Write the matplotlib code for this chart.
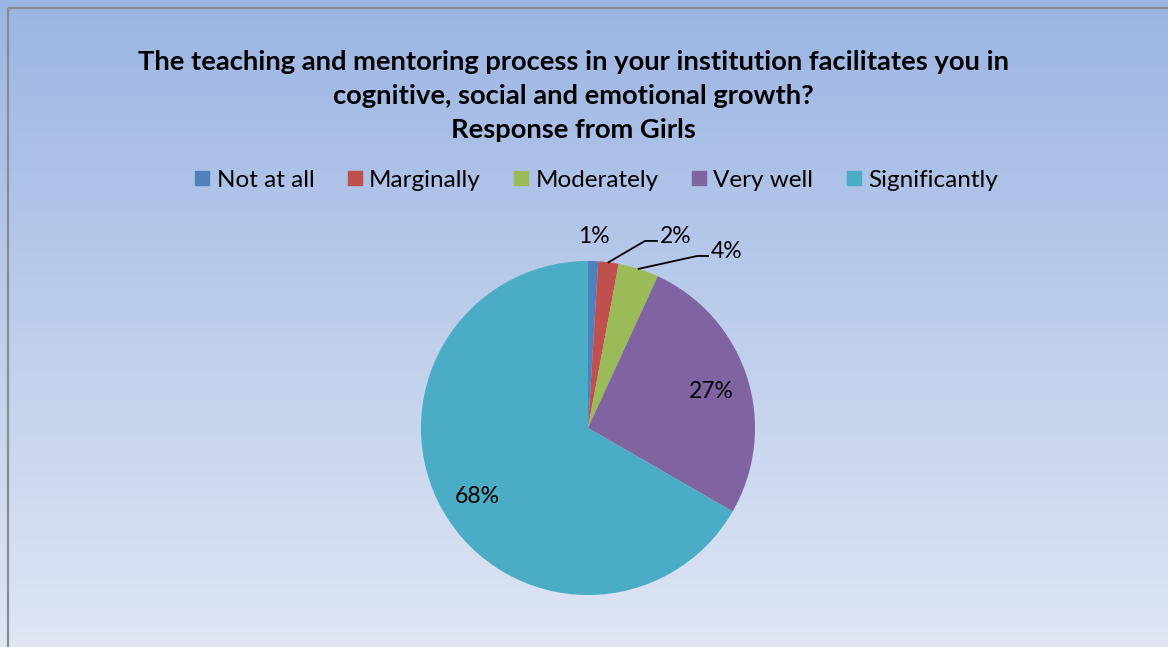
import numpy as np
import matplotlib
matplotlib.use("Agg")
import matplotlib.pyplot as plt
from matplotlib.colors import LinearSegmentedColormap
from matplotlib.lines import Line2D

categories = ["Not at all", "Marginally", "Moderately", "Very well", "Significantly"]
values = [1, 2, 4, 27, 68]
colors = ["#4f81bd", "#c0504d", "#9bbb59", "#8064a2", "#4bacc6"]
title = ("The teaching and mentoring process in your institution facilitates you in\n"
         "cognitive, social and emotional growth?\nResponse from Girls")

plt.rcParams['font.family'] = ['Lato', 'DejaVu Sans']

W, H = 1168, 647
fig = plt.figure(figsize=(W / 100, H / 100), dpi=100)

# background gradient
bg = fig.add_axes([0, 0, 1, 1], zorder=-10)
cmap = LinearSegmentedColormap.from_list("bg", ["#9bb5e3", "#dfe6f4"])
grad = np.linspace(0, 1, 256).reshape(-1, 1)
bg.imshow(grad, aspect="auto", cmap=cmap, extent=[0, 1, 0, 1], origin="upper")
bg.set_xlim(0, 1)
bg.set_ylim(0, 1)
bg.axis("off")
# border (left & top)
bx = 8 / W
by = 1 - 8 / H
bg.plot([bx, bx], [0, by], color="#8c8c8c", lw=1.6, solid_capstyle="butt")
bg.plot([bx, 1], [by, by], color="#8c8c8c", lw=1.6, solid_capstyle="butt")

# title
fig.text(573 / W, 1 - 96 / H, title, ha="center", va="center", fontsize=19.7,
         fontweight="bold", linespacing=1.5, color="black")

# pie
cx, cy, r = 588, 428, 167
ax = fig.add_axes([(cx - r) / W, (H - cy - r) / H, 2 * r / W, 2 * r / H])
wedges, _ = ax.pie(values, colors=colors, startangle=90, counterclock=False,
                   radius=1.0, wedgeprops=dict(linewidth=0))
ax.set_xlim(-1, 1)
ax.set_ylim(-1, 1)
ax.set_aspect("equal")
ax.axis("off")

labels = [f"{v}%" for v in values]
label_pos = [(0.036, 1.144), (0.527, 1.144), (0.832, 1.054), (0.737, 0.216), (-0.665, -0.413)]
leader = [None, (0.341, 1.12, 0.413), (0.653, 1.03, 0.719), None, None]
for w, lab, pos, ld in zip(wedges, labels, label_pos, leader):
    ax.text(pos[0], pos[1], lab, ha="center", va="center", fontsize=16.5, color="black")
    if ld is not None:
        ang = np.deg2rad((w.theta1 + w.theta2) / 2)
        ax.plot([np.cos(ang), ld[0], ld[2]], [np.sin(ang), ld[1], ld[1]],
                color="black", lw=1.3, clip_on=False)

handles = [Line2D([], [], marker="s", linestyle="none", markersize=10,
                  markerfacecolor=c, markeredgecolor=c) for c in colors]
fig.legend(handles, categories, loc="center", bbox_to_anchor=(594 / W, 1 - 180 / H),
           ncol=5, frameon=False, fontsize=17.5, handletextpad=0.1,
           columnspacing=1.15, handlelength=1.0)

fig.savefig("out.png", dpi=100)
